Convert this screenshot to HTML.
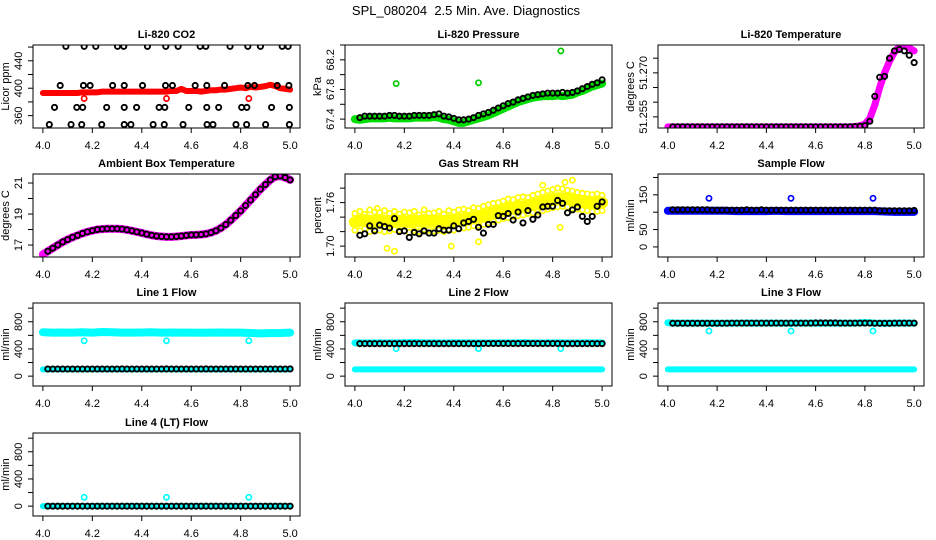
<!DOCTYPE html>
<html><head><meta charset="utf-8"><style>
html,body{margin:0;padding:0;background:#fff;}
svg{display:block;font-family:"Liberation Sans",Arial,sans-serif;}
</style></head><body>
<svg id="chart" width="936" height="540" viewBox="0 0 936 540" xmlns="http://www.w3.org/2000/svg">
<text x="466" y="15" font-size="13" text-anchor="middle" style="white-space:pre">SPL_080204  2.5 Min. Ave. Diagnostics</text>
</svg>
<script>
// ---- shared time arrays ----
const tC = [4.00,4.02,4.04,4.06,4.08,4.10,4.12,4.14,4.16,4.18,4.20,4.22,4.24,4.26,4.28,4.30,4.32,4.34,4.36,4.38,4.40,4.42,4.44,4.46,4.48,4.50,4.52,4.54,4.56,4.58,4.60,4.62,4.64,4.66,4.68,4.70,4.72,4.74,4.76,4.78,4.80,4.82,4.84,4.86,4.88,4.90,4.92,4.94,4.96,4.98,5.00];
const tB = [4.02,4.04,4.06,4.08,4.10,4.12,4.14,4.16,4.18,4.20,4.22,4.24,4.26,4.28,4.30,4.32,4.34,4.36,4.38,4.40,4.42,4.44,4.46,4.48,4.50,4.52,4.54,4.56,4.58,4.60,4.62,4.64,4.66,4.68,4.70,4.72,4.74,4.76,4.78,4.80,4.82,4.84,4.86,4.88,4.90,4.92,4.94,4.96,4.98,5.00];
const t26 = [4.00,4.04,4.08,4.12,4.16,4.20,4.24,4.28,4.32,4.36,4.40,4.44,4.48,4.52,4.56,4.60,4.64,4.68,4.72,4.76,4.80,4.84,4.88,4.92,4.96,5.00];
const tOut = [4.167,4.500,4.833];
const xTicks = [4.0,4.2,4.4,4.6,4.8,5.0];
const xTickLabels = ["4.0","4.2","4.4","4.6","4.8","5.0"];

// ---- CO2 ----
const co2Red = [393,393,393,393,393,393,393,393,394,394,394,394,395,395,395,395,395,395,395,395,395,395,395,395,395,395,396,396,399,396,396,396,395,396,397,397,398,398,399,400,401,400,402,401,402,403,405,403,400,399,398];
const co2RedOut = [385,385,385];
const co2BlackX = [4.093,4.167,4.214,4.302,4.327,4.423,4.497,4.547,4.636,4.659,4.757,4.829,4.880,4.968,4.992, 4.070,4.164,4.191,4.282,4.329,4.403,4.496,4.524,4.616,4.663,4.735,4.829,4.856,4.948,4.995, 4.047,4.137,4.161,4.258,4.329,4.379,4.470,4.493,4.590,4.663,4.711,4.804,4.825,4.925,4.997, 4.026,4.114,4.157,4.238,4.329,4.356,4.446,4.491,4.567,4.664,4.688,4.781,4.824,4.901,4.997];
const co2BlackY = [461,461,461,461,461,461,461,461,461,461,461,461,461,461,461, 404,404,404,404,404,404,404,404,404,404,404,404,404,404,404, 372,372,372,372,372,372,372,372,372,372,372,372,372,372,372, 347,347,347,347,347,347,347,347,347,347,347,347,347,347,347];
// ---- Pressure ----
const presGreen = [67.40,67.39,67.40,67.41,67.41,67.41,67.41,67.42,67.41,67.41,67.41,67.41,67.42,67.42,67.42,67.42,67.43,67.42,67.40,67.39,67.37,67.35,67.35,67.37,67.39,67.41,67.43,67.45,67.48,67.51,67.54,67.57,67.60,67.63,67.65,67.67,67.69,67.70,67.71,67.71,67.71,67.72,67.71,67.72,67.73,67.76,67.78,67.81,67.84,67.86,67.88];
const presBlack = [67.42,67.44,67.44,67.44,67.44,67.44,67.45,67.45,67.44,67.44,67.44,67.45,67.45,67.45,67.45,67.46,67.47,67.44,67.43,67.41,67.39,67.39,67.40,67.42,67.45,67.47,67.49,67.52,67.55,67.58,67.61,67.63,67.66,67.68,67.70,67.72,67.73,67.74,67.75,67.75,67.75,67.76,67.75,67.76,67.78,67.81,67.84,67.87,67.89,67.93];
const presOut = [67.88,67.89,68.32];
// ---- Li-820 Temperature ----
const tempMag = [51.2516,51.2516,51.2516,51.2516,51.2516,51.2516,51.2516,51.2516,51.2516,51.2516,51.2516,51.2516,51.2516,51.2516,51.2516,51.2516,51.2516,51.2516,51.2516,51.2516,51.2516,51.2516,51.2516,51.2516,51.2516,51.2516,51.2516,51.2516,51.2516,51.2516,51.2516,51.2516,51.2516,51.2516,51.2516,51.2516,51.2516,51.2516,51.2517,51.2520,51.2525,51.2545,51.2590,51.2650,51.2700,51.2740,51.2770,51.2790,51.2792,51.2785,51.2775];
const tempBlack = [51.2516,51.2516,51.2516,51.2516,51.2516,51.2516,51.2516,51.2516,51.2516,51.2516,51.2516,51.2516,51.2516,51.2516,51.2516,51.2516,51.2516,51.2516,51.2516,51.2516,51.2516,51.2516,51.2516,51.2516,51.2516,51.2516,51.2516,51.2516,51.2516,51.2516,51.2516,51.2516,51.2516,51.2516,51.2516,51.2516,51.2516,51.2517,51.2518,51.2520,51.2535,51.2620,51.2685,51.2688,51.2750,51.2775,51.2780,51.2775,51.2760,51.2735];
// ---- Ambient ----
const ambMag = [16.4,16.6,16.8,17.0,17.2,17.35,17.5,17.62,17.75,17.85,17.93,18.0,18.03,18.05,18.05,18.05,18.03,17.98,17.92,17.85,17.78,17.7,17.63,17.58,17.55,17.53,17.53,17.55,17.58,17.62,17.65,17.66,17.68,17.72,17.8,17.92,18.1,18.32,18.6,18.9,19.2,19.55,19.9,20.25,20.6,20.9,21.2,21.4,21.45,21.35,21.2];
const ambBlack = [16.6,16.8,17.0,17.2,17.35,17.5,17.62,17.75,17.85,17.93,18.0,18.03,18.05,18.05,18.05,18.03,17.98,17.92,17.85,17.78,17.7,17.63,17.58,17.55,17.53,17.53,17.55,17.58,17.62,17.65,17.66,17.68,17.72,17.8,17.92,18.1,18.32,18.6,18.9,19.2,19.55,19.9,20.25,20.6,20.9,21.2,21.4,21.45,21.35,21.2];
// ---- RH ----
const rhMid = [1.733,1.735,1.736,1.735,1.734,1.736,1.735,1.734,1.736,1.735,1.734,1.733,1.735,1.734,1.736,1.735,1.734,1.735,1.734,1.736,1.735,1.737,1.738,1.739,1.740,1.741,1.742,1.744,1.746,1.748,1.750,1.752,1.753,1.754,1.755,1.756,1.757,1.759,1.761,1.763,1.765,1.766,1.766,1.765,1.764,1.763,1.762,1.761,1.760,1.760,1.760];
const rhHi = [1.745,1.748,1.744,1.750,1.747,1.746,1.749,1.745,1.748,1.744,1.747,1.746,1.748,1.743,1.750,1.745,1.746,1.748,1.744,1.749,1.747,1.750,1.751,1.749,1.753,1.752,1.755,1.757,1.759,1.760,1.762,1.765,1.764,1.767,1.768,1.767,1.770,1.772,1.774,1.776,1.778,1.780,1.779,1.777,1.776,1.774,1.773,1.772,1.771,1.772,1.770];
const rhLo = [1.722,1.721,1.724,1.720,1.723,1.722,1.720,1.721,1.723,1.722,1.721,1.719,1.722,1.720,1.723,1.722,1.721,1.722,1.720,1.723,1.722,1.724,1.725,1.726,1.728,1.729,1.730,1.732,1.734,1.736,1.738,1.739,1.741,1.742,1.743,1.745,1.746,1.747,1.749,1.751,1.753,1.754,1.755,1.754,1.752,1.751,1.750,1.749,1.748,1.748,1.749];
const rhYelOutX = [4.13,4.16,4.39,4.83,4.76,4.85,4.88,4.09,4.50,4.66];
const rhYelOutY = [1.697,1.693,1.700,1.726,1.784,1.788,1.791,1.752,1.706,1.760];
const rhBlack = [1.715,1.717,1.728,1.721,1.729,1.727,1.725,1.738,1.720,1.721,1.712,1.719,1.717,1.721,1.718,1.718,1.724,1.722,1.722,1.728,1.724,1.732,1.734,1.737,1.726,1.718,1.730,1.730,1.742,1.741,1.745,1.736,1.747,1.732,1.749,1.737,1.743,1.754,1.755,1.755,1.763,1.759,1.746,1.750,1.754,1.741,1.734,1.741,1.755,1.761];
// ---- Sample flow ----
const sampBlue = [104,104,104,104,104,104,104,103,103,103,103,104,103,103,103,103,103,103,103,103,103,103,102,101,101,101];
const sampBlack = [107,107,107,107,107,107,107,107,106,106,106,106,106,106,106,107,106,106,107,106,106,106,106,106,106,106,106,106,106,106,106,106,106,106,106,106,106,106,106,106,106,106,104,104,104,104,104,104,104,105];
const sampOut = [140,140,140];
// ---- Line flows ----
const l1Hi = [645,640,642,640,645,640,650,645,640,640,642,645,640,642,640,640,638,640,642,640,640,635,630,632,635,640];
const l1Lo = [100,100,100,100,100,100,100,100,100,100,100,100,100,100,100,100,100,100,100,100,100,100,100,100,100,100];
const l1Black = [105,105,105,105,105,105,105,105,105,105,105,105,105,105,105,106,105,105,105,105,105,105,105,105,106,105,105,105,105,105,105,105,106,105,105,105,105,105,105,105,105,105,105,105,105,105,105,105,105,106];
const l1Out = [520,520,520];
const l2Hi = [490,488,490,488,490,492,495,490,490,488,490,490,490,488,490,490,490,492,490,488,490,490,488,490,490,490];
const l2Lo = [100,100,100,100,100,100,100,100,100,100,100,100,100,100,100,100,100,100,100,100,100,100,100,100,100,100];
const l2Black = [478,478,478,478,478,478,478,478,478,478,478,478,478,478,478,478,478,478,478,478,478,478,478,478,478,480,480,480,480,480,480,480,480,480,480,480,480,480,480,480,480,478,478,478,478,478,478,478,478,478];
const l2Out = [405,405,405];
const l3Hi = [785,780,782,780,780,778,780,780,782,780,780,780,778,780,780,782,780,780,780,780,790,780,778,780,782,780];
const l3Lo = [100,100,100,100,100,100,100,100,100,100,100,100,100,100,100,100,100,100,100,100,100,100,100,100,100,100];
const l3Black = [778,778,778,778,778,778,778,778,778,778,778,778,780,780,780,780,780,780,780,780,780,780,780,780,780,780,780,780,780,782,782,782,782,782,780,780,780,780,780,780,780,778,778,778,778,780,780,780,780,780];
const l3Out = [665,665,665];
const l4Cyan = [0,0,0,0,0,0,0,0,0,0,0,0,0,0,0,0,0,0,0,0,0,0,0,0,0,0];
const l4Black = [0,0,0,0,0,0,0,0,0,0,0,0,0,0,0,0,0,0,0,0,0,0,0,0,0,0,0,0,0,0,0,0,0,0,0,0,0,0,0,0,0,0,0,0,0,0,0,0,0,0];
const l4Out = [130,130,130];

const flowTicks=[0,200,400,600,800,1000], flowLabels=["0","","400","","800",""];

const svg = document.getElementById('chart');
const NS = 'http://www.w3.org/2000/svg';
function mk(tag, attrs, parent){ const e=document.createElementNS(NS,tag); for(const k in attrs) e.setAttribute(k,attrs[k]); (parent||svg).appendChild(e); return e; }

const colsL=[33,345,658], colsR=[300,612,924], rowsT=[45,174,303,433], H=83;

function makePanel(col,row,title,ylab,ymin,ymax,ticks,labels,name){
  const L=colsL[col], R=colsR[col], T=rowsT[row], B=T+H;
  const g=mk('g',{});
  
  
  const sx=v=>L+(v-3.96)/(1.08)*(R-L);
  const sy=v=>B-(v-ymin)/(ymax-ymin)*(B-T);
  const clipId='clip-'+name;
  const cp=mk('clipPath',{id:clipId},g); mk('rect',{x:L,y:T,width:R-L,height:H},cp);
  const plot=mk('g',{'clip-path':'url(#'+clipId+')'},g);
  
  
  const box=mk('rect',{x:L,y:T,width:R-L,height:H,fill:'none',stroke:'#000','stroke-width':1},g);
  
  
  const tt=mk('text',{x:(L+R)/2,y:T-7,'font-size':11,'font-weight':'bold','text-anchor':'middle'},g);
  tt.textContent=title;
  
  
  const xa=mk('g',{},g);
  
  
  mk('line',{x1:sx(xTicks[0]),x2:sx(xTicks[xTicks.length-1]),y1:B,y2:B,stroke:'#000'},xa);
  xTicks.forEach((v,i)=>{
    mk('line',{x1:sx(v),x2:sx(v),y1:B,y2:B+5,stroke:'#000'},xa);
    const t=mk('text',{x:sx(v),y:B+21,'font-size':11,'text-anchor':'middle'},xa);
    t.textContent=xTickLabels[i];
    
    
  });
  const ya=mk('g',{},g);
  
  
  const vt=ticks.filter(v=>v>=ymin-1e-9&&v<=ymax+1e-9);
  mk('line',{x1:L,x2:L,y1:sy(vt[0]),y2:sy(vt[vt.length-1]),stroke:'#000'},ya);
  ticks.forEach((v,i)=>{
    if(v<ymin-1e-9||v>ymax+1e-9) return;
    mk('line',{x1:L-5,x2:L,y1:sy(v),y2:sy(v),stroke:'#000'},ya);
    if(labels[i]){
      const t=mk('text',{x:L-11,y:sy(v),'font-size':11,'text-anchor':'middle',transform:`rotate(-90 ${L-11} ${sy(v)})`},ya);
      t.textContent=labels[i];
      
      
    }
  });
  const yl=mk('text',{x:L-24,y:(T+B)/2,'font-size':11,'text-anchor':'middle',transform:`rotate(-90 ${L-24} ${(T+B)/2})`},g);
  yl.textContent=ylab;
  
  
  return {
    band(xs,ys,color,w,nm){
      const pl=mk('polyline',{points:xs.map((x,i)=>sx(x)+','+sy(ys[i])).join(' '),fill:'none',stroke:color,'stroke-width':w,'stroke-linejoin':'round','stroke-linecap':'round'},plot);
      
      
    },
    pts(xs,ys,color,r,sw,nm){
      const gg=mk('g',{},plot);
      
      
      xs.forEach((x,i)=>{ const c=mk('circle',{cx:sx(x),cy:sy(ys[i]),r:r,fill:'none',stroke:color,'stroke-width':sw},gg);
        
         });
    }
  };
}
const BK='#000', CY='#00ffff';
let p;
p=makePanel(0,0,'Li-820 CO2','Licor ppm',342,463,[360,380,400,420,440,460],["360","","400","","440",""],'co2');
p.band(tC,co2Red,'#ff0000',6,'co2-red-series'); p.pts(tOut,co2RedOut,'#ff0000',2.6,1.7,'co2-red-outlier');
p.pts(co2BlackX,co2BlackY,BK,2.6,1.9,'co2-black-series');

p=makePanel(1,0,'Li-820 Pressure','kPa',67.28,68.40,[67.4,67.6,67.8,68.0,68.2,68.4],["67.4","","67.8","","68.2",""],'pressure');
p.band(tC,presGreen,'#00dd00',8,'pressure-green-series'); p.pts(tOut,presOut,'#00cc00',2.6,1.7,'pressure-green-outlier');
p.pts(tB,presBlack,BK,2.6,1.9,'pressure-black-series');

p=makePanel(2,0,'Li-820 Temperature','degrees C',51.2512,51.2795,[51.255,51.260,51.265,51.270,51.275],["51.255","","","51.270",""],'li820-temp');
p.band(tC,tempMag,'#ff00ff',7,'temp-magenta-series'); p.pts(tB,tempBlack,BK,2.6,1.9,'temp-black-series');

p=makePanel(0,1,'Ambient Box Temperature','degrees C',16.23,21.58,[17,18,19,20,21],["17","","19","","21"],'ambient');
p.band(tC,ambMag,'#ff00ff',8,'ambient-magenta-series'); p.pts(tB,ambBlack,BK,2.6,1.9,'ambient-black-series');

p=makePanel(1,1,'Gas Stream RH','percent',1.685,1.7995,[1.70,1.72,1.74,1.76,1.78,1.80],["1.70","","","1.76","",""],'rh');
p.band(tC,rhMid,'#ffff00',12,'rh-yellow-band');
p.pts(tC,rhHi,'#ffff00',2.6,1.7,'rh-yellow-upper'); p.pts(tC,rhLo,'#ffff00',2.6,1.7,'rh-yellow-lower');
p.pts(rhYelOutX,rhYelOutY,'#ffff00',2.6,1.7,'rh-yellow-outlier');
p.pts(tB,rhBlack,BK,2.6,1.9,'rh-black-series');

p=makePanel(2,1,'Sample Flow','ml/min',-29,210,[0,50,100,150,200],["0","50","","150",""],'sample-flow');
p.band(t26,sampBlue,'#0000ff',8,'sample-blue-series'); p.pts(tOut,sampOut,'#0000ff',2.6,1.7,'sample-blue-outlier');
p.pts(tB,sampBlack,BK,2.6,1.9,'sample-black-series');

p=makePanel(0,2,'Line 1 Flow','ml/min',-145,1076,flowTicks,flowLabels,'line1');
p.band(t26,l1Hi,CY,8,'line1-cyan-high'); p.band(t26,l1Lo,CY,6,'line1-cyan-low');
p.pts(tOut,l1Out,CY,2.6,1.7,'line1-cyan-outlier'); p.pts(tB,l1Black,BK,2.6,1.9,'line1-black-series');

p=makePanel(1,2,'Line 2 Flow','ml/min',-145,1076,flowTicks,flowLabels,'line2');
p.band(t26,l2Hi,CY,7,'line2-cyan-high'); p.band(t26,l2Lo,CY,6,'line2-cyan-low');
p.pts(tOut,l2Out,CY,2.6,1.7,'line2-cyan-outlier'); p.pts(tB,l2Black,BK,2.6,1.9,'line2-black-series');

p=makePanel(2,2,'Line 3 Flow','ml/min',-145,1076,flowTicks,flowLabels,'line3');
p.band(t26,l3Hi,CY,7,'line3-cyan-high'); p.band(t26,l3Lo,CY,6,'line3-cyan-low');
p.pts(tOut,l3Out,CY,2.6,1.7,'line3-cyan-outlier'); p.pts(tB,l3Black,BK,2.6,1.9,'line3-black-series');

p=makePanel(0,3,'Line 4 (LT) Flow','ml/min',-145,1076,flowTicks,flowLabels,'line4');
p.band(t26,l4Cyan,CY,6,'line4-cyan-series'); p.pts(tOut,l4Out,CY,2.6,1.7,'line4-cyan-outlier');
p.pts(tB,l4Black,BK,2.6,1.9,'line4-black-series');
</script>
</body></html>
